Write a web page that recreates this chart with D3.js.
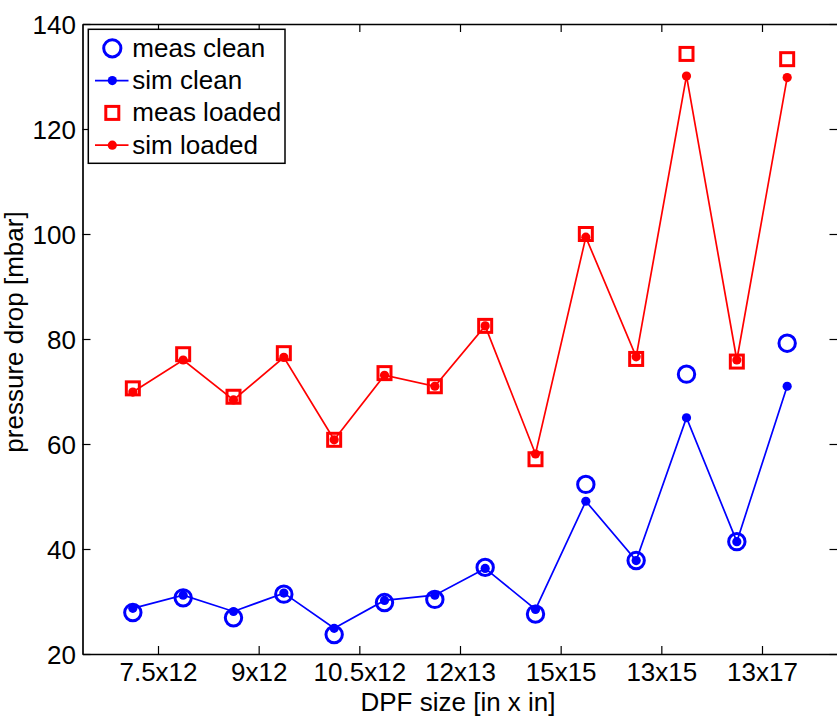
<!DOCTYPE html>
<html>
<head>
<meta charset="utf-8">
<script src="https://cdn.jsdelivr.net/npm/d3@7"></script>
<style>
  html, body { margin: 0; padding: 0; background: #fff; }
  svg { display: block; }
  text { font-family: "Liberation Sans", Arial, Helvetica, sans-serif; fill: #000; }
</style>
</head>
<body>
<svg id="chart" width="837" height="724"></svg>
<script>
// DPF sizes on the x axis; each size has two variants, placed either side of the tick
const categories = ["7.5x12", "9x12", "10.5x12", "12x13", "15x15", "13x15", "13x17"];
const variantOffsets = [-0.25, 0.25];

// pressure drop [mbar], two values per DPF size (variant 1, variant 2)
const measClean  = [27.9, 30.7, 26.9, 31.4, 23.7, 29.8, 30.4, 36.5, 27.6, 52.3, 37.8, 73.3, 41.4, 79.2];
const simClean   = [28.7, 31.2, 28.1, 31.6, 24.9, 30.2, 31.2, 36.3, 28.5, 49.1, 37.8, 65.0, 41.4, 71.0];
const measLoaded = [70.6, 77.1, 69.0, 77.3, 60.8, 73.5, 71.0, 82.5, 57.1, 100.0, 76.2, 134.3, 75.7, 133.3];
const simLoaded  = [69.9, 76.0, 68.4, 76.5, 60.8, 73.1, 71.0, 82.5, 58.1, 99.4, 76.6, 130.1, 76.0, 129.8];

const yTicks = [20, 40, 60, 80, 100, 120, 140];

// x position (in category units) of every measurement
const xPositions = categories.flatMap((c, i) => variantOffsets.map(o => i + 1 + o));

const svg = d3.select("#chart");
const plot = { left: 82.5, right: 837.5, top: 24, bottom: 654 };

const x = d3.scaleLinear().domain([0.25, categories.length + 0.75]).range([plot.left, plot.right]);
const y = d3.scaleLinear().domain([20, 140]).range([plot.bottom, plot.top]);

const FONT = 26;
const BLUE = "#0000ff", RED = "#ff0000";

// axes box with inward ticks on all four sides
const tickVals = categories.map((c, i) => i + 1);
const gBottom = svg.append("g").attr("transform", `translate(0,${plot.bottom})`)
  .call(d3.axisBottom(x).tickValues(tickVals).tickSize(-8).tickSizeOuter(0)
    .tickFormat((d, i) => categories[i]).tickPadding(14));
const gTop = svg.append("g").attr("transform", `translate(0,${plot.top})`)
  .call(d3.axisTop(x).tickValues(tickVals).tickSize(-8).tickSizeOuter(0).tickFormat(""));
const gLeft = svg.append("g").attr("transform", `translate(${plot.left},0)`)
  .call(d3.axisLeft(y).tickValues(yTicks).tickSize(-8).tickSizeOuter(0).tickPadding(6.5));
const gRight = svg.append("g").attr("transform", `translate(${plot.right},0)`)
  .call(d3.axisRight(y).tickValues(yTicks).tickSize(-8).tickSizeOuter(0).tickFormat(""));

[gBottom, gTop, gLeft, gRight].forEach(g => {
  g.selectAll(".domain").attr("stroke", "#000").attr("stroke-width", 1.7);
  g.selectAll(".tick line").attr("stroke", "#000").attr("stroke-width", 1.2);
  g.selectAll("text").attr("font-size", FONT).attr("font-family", null).attr("fill", "#000");
});
gBottom.selectAll(".tick text").attr("dy", null).attr("y", 26.7);
gLeft.selectAll(".tick text").attr("dy", "0.35em");

// axis titles
svg.append("text")
  .attr("x", 458).attr("y", 710.5)
  .attr("text-anchor", "middle").attr("font-size", FONT)
  .text("DPF size [in x in]");
svg.append("text")
  .attr("transform", "translate(23,332) rotate(-90)")
  .attr("text-anchor", "middle").attr("font-size", FONT)
  .text("pressure drop [mbar]");

const line = d3.line().x((d, i) => x(xPositions[i])).y(d => y(d));
const SQ = 13;

// measured, clean filter: open circles
svg.append("g").selectAll("circle").data(measClean).join("circle")
  .attr("cx", (d, i) => x(xPositions[i])).attr("cy", d => y(d)).attr("r", 8.2)
  .attr("fill", "none").attr("stroke", BLUE).attr("stroke-width", 3);

// simulated, clean filter: line with dots
svg.append("path").datum(simClean).attr("d", line)
  .attr("fill", "none").attr("stroke", BLUE).attr("stroke-width", 1.7);
svg.append("g").selectAll("circle").data(simClean).join("circle")
  .attr("cx", (d, i) => x(xPositions[i])).attr("cy", d => y(d)).attr("r", 4.6)
  .attr("fill", BLUE);

// measured, loaded filter: open squares
svg.append("g").selectAll("rect").data(measLoaded).join("rect")
  .attr("x", (d, i) => x(xPositions[i]) - SQ / 2).attr("y", d => y(d) - SQ / 2)
  .attr("width", SQ).attr("height", SQ)
  .attr("fill", "none").attr("stroke", RED).attr("stroke-width", 3);

// simulated, loaded filter: line with dots
svg.append("path").datum(simLoaded).attr("d", line)
  .attr("fill", "none").attr("stroke", RED).attr("stroke-width", 1.7);
svg.append("g").selectAll("circle").data(simLoaded).join("circle")
  .attr("cx", (d, i) => x(xPositions[i])).attr("cy", d => y(d)).attr("r", 4.6)
  .attr("fill", RED);

// legend
const legendItems = [
  { label: "meas clean",  color: BLUE, marker: "circle", line: false },
  { label: "sim clean",   color: BLUE, marker: "dot",    line: true },
  { label: "meas loaded", color: RED,  marker: "square", line: false },
  { label: "sim loaded",  color: RED,  marker: "dot",    line: true }
];
const legend = svg.append("g");
legend.append("rect")
  .attr("x", 88.3).attr("y", 29.3).attr("width", 196.7).attr("height", 134)
  .attr("fill", "#fff").attr("stroke", "#000").attr("stroke-width", 1.5);
legendItems.forEach((it, i) => {
  const cy = 48.3 + i * 32.3;
  const g = legend.append("g");
  if (it.line) {
    g.append("line").attr("x1", 95).attr("x2", 128.5).attr("y1", cy).attr("y2", cy)
      .attr("stroke", it.color).attr("stroke-width", 1.7);
  }
  if (it.marker === "circle") {
    g.append("circle").attr("cx", 112.3).attr("cy", cy).attr("r", 8.6)
      .attr("fill", "none").attr("stroke", it.color).attr("stroke-width", 3);
  } else if (it.marker === "square") {
    g.append("rect").attr("x", 112.3 - SQ / 2).attr("y", cy - SQ / 2).attr("width", SQ).attr("height", SQ)
      .attr("fill", "none").attr("stroke", it.color).attr("stroke-width", 3);
  } else {
    g.append("circle").attr("cx", 112.3).attr("cy", cy).attr("r", 4.6).attr("fill", it.color);
  }
  g.append("text").attr("x", 132.3).attr("y", cy + 8.4).attr("font-size", FONT).text(it.label);
});
</script>
</body>
</html>
